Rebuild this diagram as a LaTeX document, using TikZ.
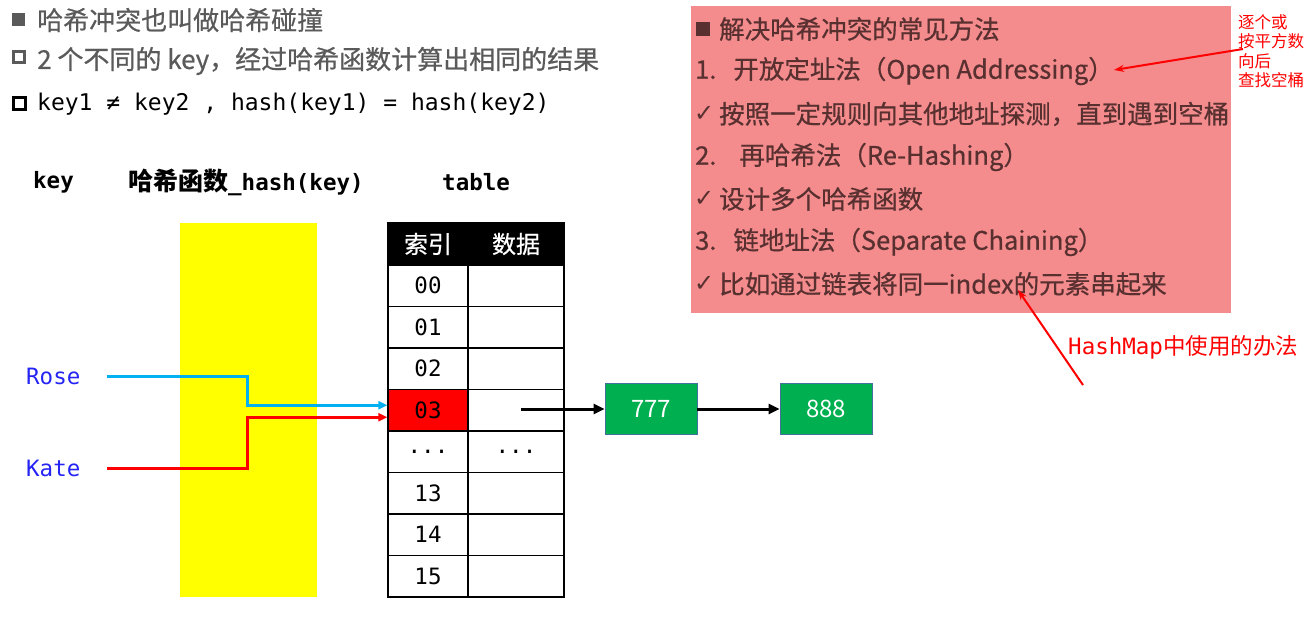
\documentclass[tikz,border=0pt]{standalone}
\usepackage{fontspec}
\setmainfont{Noto Sans CJK SC}
\setmonofont{DejaVu Sans Mono}
\newfontfamily\cjk{Noto Sans CJK SC}
\newfontfamily\cjkheavy{Noto Sans CJK SC}[FakeBold=0.6]
\newfontfamily\djv{DejaVu Sans}
\usetikzlibrary{arrows.meta}
\definecolor{pinkbg}{RGB}{244,139,141}
\definecolor{pinktext}{RGB}{88,48,48}
\definecolor{greytext}{RGB}{90,90,90}
\definecolor{rosecol}{RGB}{36,36,245}
\definecolor{cyanline}{RGB}{0,176,240}
\definecolor{greenbox}{RGB}{0,176,80}
\definecolor{greenedge}{RGB}{65,113,156}
\definecolor{puryellow}{RGB}{255,255,0}
\newcommand{\mydots}{...}
\begin{document}
\begin{tikzpicture}[x=1pt,y=-1pt,
  txt/.style={anchor=west,inner sep=0pt},
  toptxt/.style={txt,font=\cjkheavy\fontsize{26}{31}\selectfont},
  pinktxt/.style={txt,text=pinktext,font=\cjkheavy\fontsize{25.5}{30}\selectfont},
  checkmk/.style={txt,text=pinktext,font=\djv\fontsize{24}{28}\selectfont},
  headtxt/.style={txt,font=\ttfamily\bfseries\fontsize{22.5}{26}\selectfont},
  keytxt/.style={txt,text=rosecol,font=\ttfamily\fontsize{22.5}{26}\selectfont},
  cell/.style={draw,line width=1.3pt,minimum height=41.5pt,inner sep=0pt,
    font=\ttfamily\fontsize{22.5}{26}\selectfont},
  idxcell/.style={cell,minimum width=80pt},
  datcell/.style={cell,minimum width=96pt},
  headcell/.style={cell,fill=black,text=white,minimum height=42pt,
    font=\cjkheavy\fontsize{24}{28}\selectfont},
  gbox/.style={draw=greenedge,fill=greenbox,line width=0.8pt,text=white,
    minimum width=92pt,minimum height=51pt,inner sep=0pt,
    font=\fontsize{24}{28}\selectfont},
  keyline/.style={line width=3pt},
  colarrow/.style={-{Triangle[length=9pt,width=8pt]}},
  blkarrow/.style={line width=3pt,-{Triangle[length=11pt,width=10pt]}},
  redarrow/.style={draw=red,line width=2pt,-{Stealth[length=10pt,width=7pt]}}
]
\useasboundingbox (0,0) rectangle (1314,616);
\fill[white] (0,0) rectangle (1314,616);

% ---- top-left text ----
\fill[greytext] (12,13) rectangle (25,26);
\node[toptxt,text=greytext] (l1) at (37,20) {哈希冲突也叫做哈希碰撞};
\draw[greytext,line width=3pt] (13.5,51.5) rectangle (24.5,62.5);
\node[toptxt,text=greytext] (l2) at (37,61) {2 个不同的 key，经过哈希函数计算出相同的结果};
\draw[black,line width=3pt] (13.5,97.5) rectangle (25,109.5);
\node[txt,font=\ttfamily\fontsize{23}{27}\selectfont] (l3) at (37,104) {key1 ≠ key2 , hash(key1) = hash(key2)};

% ---- column headers ----
\node[headtxt] (hkey) at (33,182) {key};
\node[headtxt] (hfun) at (128,182) {{\cjk\bfseries\fontsize{25}{28}\selectfont 哈希函数}\_hash(key)};
\node[headtxt] (htab) at (442,182) {table};

% ---- hash function band ----
\node[fill=puryellow,minimum width=137pt,minimum height=374pt,inner sep=0pt] (hashfn) at (248.5,410) {};

% ---- table ----
\node[headcell,minimum width=80pt] (hidx) at (428,244) {索引};
\node[headcell,minimum width=96pt] (hdat) at (516,244) {数据};
\foreach \k/\lab/\dlab in {0/00/,1/01/,2/02/,3/03/,4/\mydots/\mydots,5/13/,6/14/,7/15/}{
  \pgfmathsetmacro{\yy}{265+41.5*(\k+0.5)}
  \ifnum\k=3
    \node[idxcell,fill=red] (i\k) at (428,\yy) {\lab};
  \else
    \node[idxcell] (i\k) at (428,\yy) {\lab};
  \fi
  \node[datcell] (d\k) at (516,\yy) {\dlab};
}

% ---- keys ----
\node[keytxt] (rose) at (26,376) {Rose};
\node[keytxt] (kate) at (26,468) {Kate};
\coordinate (rs) at (107,376);
\coordinate (ks) at (107,468);
\draw[keyline,cyanline,colarrow] (rs) -- ++(140,0) |- ([yshift=5pt]i3.west);
\draw[keyline,red,colarrow] (ks) -- ++(140,0) |- ([yshift=-7pt]i3.west);

% ---- chain ----
\node[gbox] (n777) at (651,409) {777};
\node[gbox] (n888) at (826,409) {888};
\coordinate (chainstart) at (521,409);
\draw[blkarrow] (chainstart) -- (n777.west);
\draw[blkarrow] (n777.east) -- (n888.west);

% ---- pink box ----
\node[fill=pinkbg,minimum width=540pt,minimum height=307pt,inner sep=0pt] (pinkbox) at (961,159.5) {};
\fill[pinktext] (696,22) rectangle (710,36);
\node[pinktxt] (p1) at (719,29) {解决哈希冲突的常见方法};
\node[pinktxt] (p2) at (695,71) {1.\hspace{17pt}开放定址法（Open Addressing）};
\node[checkmk] (c3) at (694,114) {✓};
\node[pinktxt] (p3) at (719,114) {按照一定规则向其他地址探测，直到遇到空桶};
\node[pinktxt] (p4) at (695,157) {2.\hspace{23pt}再哈希法（Re-Hashing）};
\node[checkmk] (c5) at (694,199) {✓};
\node[pinktxt] (p5) at (719,199) {设计多个哈希函数};
\node[pinktxt] (p6) at (695,242) {3.\hspace{17pt}链地址法（Separate Chaining）};
\node[checkmk] (c7) at (694,284) {✓};
\node[pinktxt] (p7) at (719,284) {比如通过链表将同一index的元素串起来};

% ---- annotations ----
\node[anchor=north west,inner sep=0pt,align=left,text=red,
  font=\fontsize{16.5}{19.5}\selectfont] (note1) at (1238,14) {逐个或\\按平方数\\向后\\查找空桶};
\coordinate (a1t) at (1243,49);
\coordinate (a1h) at (1114,70);
\draw[redarrow] (a1t) -- (a1h);

\node[txt,text=red,font=\fontsize{22.5}{26}\selectfont] (note2) at (1068,347) {{\ttfamily HashMap}中使用的办法};
\coordinate (a2t) at (1083,385);
\coordinate (a2h) at (1018,290);
\draw[redarrow] (a2t) -- (a2h);
\end{tikzpicture}
\end{document}
